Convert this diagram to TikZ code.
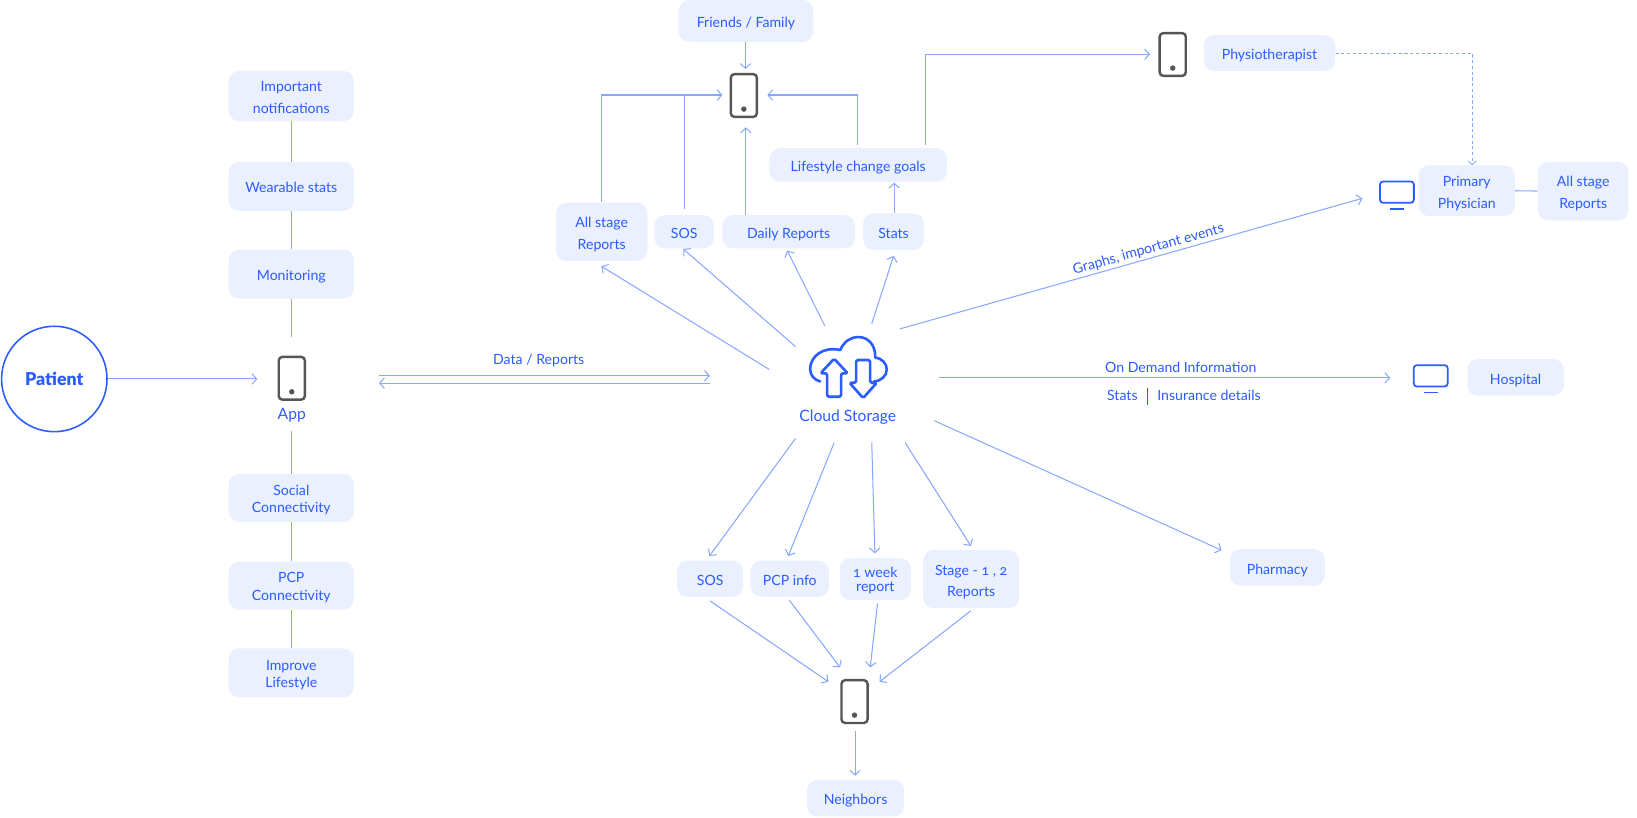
\documentclass[tikz,border=0pt]{standalone}
\usepackage{fontspec}
\setmainfont[Numbers=OldStyle]{Lato}
\usetikzlibrary{arrows.meta}
\definecolor{ink}{HTML}{2B5CFF}
\definecolor{wire}{HTML}{8AA7FF}
\definecolor{pale}{HTML}{EBF0FF}
\definecolor{dev}{HTML}{555555}
\newcommand{\bx}[7][20.5]{\node[boxnode,minimum width={(#5-#3)*1pt},minimum height={(#6-#4)*1pt}] (#2) at ({(#3+#5)/2},{(#4+#6)/2}) {\fontsize{13.5}{#1}\selectfont\vbox{\kern 4.5pt\hbox{\begin{tabular}{@{}c@{}}#7\end{tabular}}}};}
\newcommand{\pt}[3]{\coordinate (#1) at (#2,#3);}
\tikzset{
 boxnode/.style={fill=pale,rounded corners=10pt,inner sep=0pt,text=ink},
 lab/.style={text=ink,inner sep=0pt,font=\fontsize{13.5}{20.5}\selectfont},
 phone/.style={draw=dev,line width=2.3pt,rounded corners=3.5pt,minimum width=25pt,minimum height=41pt,inner sep=0pt,
   path picture={\fill[dev] ([yshift=7.5pt]path picture bounding box.south) circle (2.6pt);}},
 monitor/.style={draw=ink,line width=1.7pt,rounded corners=3pt,minimum width=32.5pt,minimum height=20.5pt,inner sep=0pt},
 monbar/.style={draw=ink,line width=1.7pt},
 plain/.style={draw=wire,line width=1pt},
 conn/.style={plain,-{Straight Barb[length=4.5pt,width=10pt,line width=1pt]}},
 dotconn/.style={draw=wire,line width=.8pt,dash pattern=on 3pt off 2.5pt,-{Straight Barb[length=3.5pt,width=8pt,line width=.8pt]}},
 icon/.style={draw=ink,line width=2.5pt,line join=round}
}
\begin{document}
\begin{tikzpicture}[x=1pt,y=-1pt]
\useasboundingbox (0,0) rectangle (1568,783);
% left column
\bx{notif}{219}{68}{339}{116}{Important\\notifications}
\bx{wear}{219}{155}{339}{202}{Wearable stats}
\bx{monit}{219}{239}{339}{286}{Monitoring}
\bx[16.5]{social}{219}{454}{339}{500}{Social\\Connectivity}
\bx[16.5]{pcp}{219}{538}{339}{584}{PCP\\Connectivity}
\bx[16.5]{improve}{219}{621}{339}{668}{Improve\\Lifestyle}
\node[draw=ink,line width=1.5pt,circle,minimum size=101pt,inner sep=0pt,text=ink,font=\fontsize{17}{20}\fontspec{Lato Black}] (patient) at (52,363) {Patient};
\node[phone] (appphone) at (279.5,362.3) {};
\node[lab,font=\fontsize{15}{18}\selectfont] (applab) at (279.5,398) {App};
\pt{monend}{279}{322.5}\pt{socstart}{279}{413}\pt{patarrow}{246.5}{363}
\draw[plain] (notif.south) -- (wear.north);
\draw[plain] (wear.south) -- (monit.north);
\draw[plain] (monit.south) -- (monend);
\draw[plain] (socstart) -- (social.north);
\draw[plain] (social.south) -- (pcp.north);
\draw[plain] (pcp.south) -- (improve.north);
\draw[conn] (patient.east) -- (patarrow);
% data link
\pt{dataL}{363}{360}\pt{dataR}{680}{360}\pt{backR}{680}{367}\pt{backL}{363}{367}
\draw[conn] (dataL) -- (dataR);
\draw[conn] (backR) -- (backL);
\node[lab] (datalab) at (516,345) {Data / Reports};
% cloud icon
\node[inner sep=0pt,minimum width=78pt,minimum height=58pt] (cloud) at (812,355) {};
\begin{scope}[shift={(670.6,287.4)},x=.3193pt,y=-.3193pt]
\draw[icon] (362,245) .. controls (342,240) and (330,225) .. (330,207) .. controls (330,170) and (368,138) .. (420,150)
 .. controls (432,125) and (450,111) .. (475,111) .. controls (508,111) and (527,140) .. (525,172)
 .. controls (545,175) and (560,190) .. (560,208) .. controls (560,228) and (542,243) .. (520,245);
\draw[icon,fill=white,rounded corners=1.5pt] (468,180) -- (510,180) -- (510,248) -- (530,248) -- (489,294) -- (448,248) -- (468,248) -- cycle;
\draw[icon,fill=white,rounded corners=1.5pt] (402,176) -- (443,220) -- (423,220) -- (423,290) -- (381,290) -- (381,220) -- (361,220) -- cycle;
\end{scope}
\node[lab,font=\fontsize{15}{18}\selectfont] (cloudlab) at (812,399.5) {Cloud Storage};
% upper tree
\bx{friends}{650}{0}{779}{40}{Friends / Family}
\node[phone] (topphone) at (712.5,91.5) {};
\bx{allup}{532.6}{194}{620}{250}{All stage\\Reports}
\bx{sosup}{627}{206}{683.7}{238}{SOS}
\bx{daily}{692}{206}{818.8}{238}{Daily Reports}
\bx{stats}{826.8}{204.3}{885}{239.5}{Stats}
\bx{goals}{737}{142}{907}{174}{Lifestyle change goals}
\pt{ffend}{714}{66}\pt{c1}{737}{354}\pt{h1}{576}{255}\pt{c2}{762}{332}\pt{h2}{654.5}{238.5}\pt{c3}{790}{312}\pt{h3}{754}{240}\pt{c4}{835}{310}\pt{h4}{856}{245}
\pt{allcorner}{576.4}{91}\pt{phoneL}{692}{91}\pt{sosjoin}{655.3}{91}\pt{dailyend}{714.4}{122}\pt{sosfoot}{655.3}{200}\pt{dailyfoot}{714.4}{206}
\pt{goalfoot}{821}{138.6}\pt{goalcorner}{821}{91}\pt{phoneR}{735}{91}\pt{statstop}{856.5}{204}\pt{goalsbot}{856.5}{175}
\draw[conn] (friends.south -| ffend) -- (ffend);
\draw[conn] (c1) -- (h1);\draw[conn] (c2) -- (h2);\draw[conn] (c3) -- (h3);\draw[conn] (c4) -- (h4);
\draw[conn] (allup.north -| allcorner) -- (allcorner) -- (phoneL);
\draw[plain] (sosfoot) -- (sosjoin);
\draw[conn] (dailyfoot) -- (dailyend);
\draw[conn] (goalfoot) -- (goalcorner) -- (phoneR);
\draw[conn] (statstop) -- (goalsbot);
% physiotherapist
\node[phone] (physphone) at (1123.3,52.2) {};
\bx{physio}{1153}{33.5}{1279}{68}{Physiotherapist}
\pt{g1}{886.5}{138.6}\pt{g2}{886.5}{52}\pt{g3}{1101.5}{52}
\draw[conn] (g1) -- (g2) -- (g3);
\bx{primary}{1358.8}{158.4}{1451}{207}{Primary\\Physician}
\bx{allright}{1473}{155}{1560}{211}{All stage\\Reports}
\pt{d1}{1410}{51}
\draw[dotconn] (physio.east |- d1) -- (d1) -- (primary.north -| d1);
\draw[plain] (primary.east) -- (allright.west);
\node[monitor] (mon1) at (1338,184) {};
\draw[monbar] ([xshift=-6.8pt,yshift=-4.75pt]mon1.south) -- ([xshift=6.8pt,yshift=-4.75pt]mon1.south);
\pt{c5}{862}{315}\pt{h5}{1305}{190}
\draw[conn] (c5) -- (h5);
\node[lab,rotate=15.8] (graphs) at (1100,239) {Graphs, important events};
% hospital
\node[monitor] (mon2) at (1370.4,360) {};
\draw[monbar] ([xshift=-6.8pt,yshift=-4.75pt]mon2.south) -- ([xshift=6.8pt,yshift=-4.75pt]mon2.south);
\bx{hospital}{1405.4}{344}{1498}{379}{Hospital}
\pt{c6}{899}{362}\pt{h6}{1331.6}{362}
\draw[conn] (c6) -- (h6);
\node[lab] (ondemand) at (1131,351.5) {On Demand Information};
\node[lab] (insur) at (1134,380) {Stats\hspace{9pt}\rule[-4.5pt]{.9pt}{16.5pt}\hspace{9pt}Insurance details};
% pharmacy
\bx{pharm}{1178}{526}{1269}{561}{Pharmacy}
\pt{c7}{895}{403}\pt{h7}{1170}{527}
\draw[conn] (c7) -- (h7);
% lower tree
\bx{sosb}{648.6}{537}{711.8}{571.6}{SOS}
\bx{pcpi}{718.8}{537}{794.2}{571.6}{PCP info}
\bx[13]{week}{804.4}{534.6}{872.5}{574.8}{1 week\\report}
\bx{stage}{884.2}{526.9}{976.2}{582.5}{Stage - 1 , 2\\Reports}
\node[phone] (botphone) at (818.5,672) {};
\bx{neigh}{773}{747}{866}{782}{Neighbors}
\pt{c8}{762}{420}\pt{h8}{679.5}{532.6}\pt{c9}{799}{424}\pt{h9}{755}{532.6}\pt{c10}{835}{424}\pt{h10}{838}{530}\pt{c11}{867}{424}\pt{h11}{930}{523}
\draw[conn] (c8) -- (h8);\draw[conn] (c9) -- (h9);\draw[conn] (c10) -- (h10);\draw[conn] (c11) -- (h11);
\pt{s1}{680}{575.5}\pt{e1}{793.5}{653}\pt{s2}{756}{574.8}\pt{e2}{804.7}{639.3}\pt{s3}{840.5}{578}\pt{e3}{833.5}{639.3}\pt{s4}{930}{585}\pt{e4}{842.4}{653}
\draw[conn] (s1) -- (e1);\draw[conn] (s2) -- (e2);\draw[conn] (s3) -- (e3);\draw[conn] (s4) -- (e4);
\pt{n1}{819}{700}\pt{n2}{819}{743}
\draw[conn] (n1) -- (n2);
\end{tikzpicture}
\end{document}
